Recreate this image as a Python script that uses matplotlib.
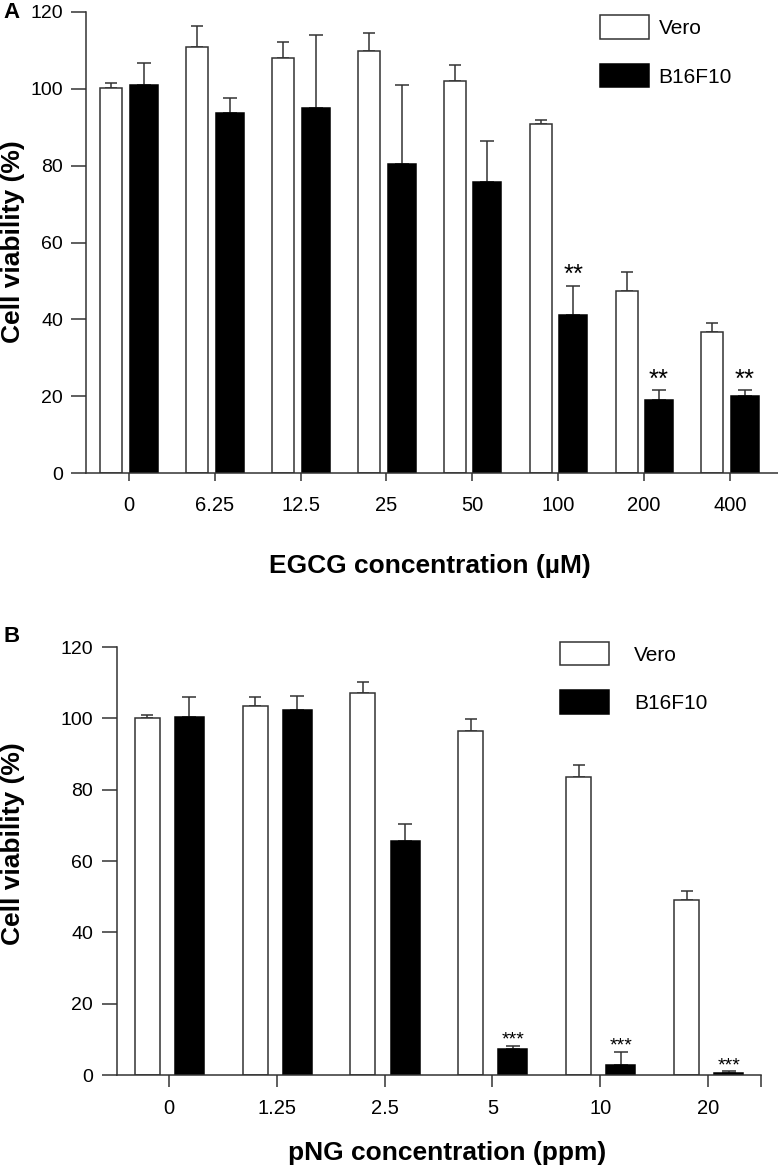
import numpy as np
import matplotlib
matplotlib.use("Agg")
from matplotlib import pyplot as plt

plt.rcParams['font.family'] = ['Liberation Sans', 'DejaVu Sans']

# Panel A: EGCG
egcg_labels = ["0", "6.25", "12.5", "25", "50", "100", "200", "400"]
vero_a = [100.3, 111.0, 108.0, 109.8, 102.1, 90.8, 47.4, 36.7]
vero_a_err = [1.2, 5.3, 4.2, 4.8, 4.2, 1.0, 4.8, 2.4]
b16_a = [101.1, 93.6, 95.1, 80.5, 75.7, 41.1, 19.0, 20.1]
b16_a_err = [5.5, 3.9, 19.0, 20.5, 10.6, 7.7, 2.6, 1.5]
stars_a = ["", "", "", "", "", "**", "**", "**"]

# Panel B: pNG
png_labels = ["0", "1.25", "2.5", "5", "10", "20"]
vero_b = [100.0, 103.4, 107.1, 96.5, 83.6, 49.0]
vero_b_err = [1.0, 2.5, 3.1, 3.4, 3.2, 2.7]
b16_b = [100.4, 102.4, 65.5, 7.3, 2.7, 0.65]
b16_b_err = [5.5, 3.8, 5.0, 0.9, 3.7, 0.4]
stars_b = ["", "", "", "***", "***", "***"]

W, H = 778, 1173
fig = plt.figure(figsize=(W/100, H/100), dpi=100)

def px(x, y):
    # pixel position -> figure fraction
    return x/W, 1 - y/H

def panel(rect, labels, vero, vero_err, b16, b16_err, stars, xlim,
          woff, wwid, boff, bwid, xtick_len, xtick_pad, ytick_pad,
          star_size, star_off, leg_xy, leg_pad, end_tick):
    ax = fig.add_axes(rect)
    x = np.arange(len(labels))
    edge = '#333333'
    ax.bar(x + woff, vero, wwid, color='white', edgecolor=edge, linewidth=1.1, label='Vero', zorder=2)
    ax.bar(x + boff, b16, bwid, color='black', edgecolor='black', linewidth=1.1, label='B16F10', zorder=2)
    z = np.zeros(len(labels))
    ax.errorbar(x + woff, vero, yerr=[z, vero_err], fmt='none', ecolor=edge,
                elinewidth=1.1, capsize=4.5, capthick=1.1, zorder=1)
    ax.errorbar(x + boff, b16, yerr=[z, b16_err], fmt='none', ecolor=edge,
                elinewidth=1.1, capsize=5, capthick=1.1, zorder=1)
    for i, s in enumerate(stars):
        if s:
            ax.annotate(s, xy=(x[i] + boff, b16[i] + b16_err[i]), xytext=(0, star_off),
                        textcoords='offset points', ha='center', va='bottom', fontsize=star_size)

    ax.set_xlim(*xlim)
    ax.set_ylim(0, 120)
    ax.set_yticks(range(0, 121, 20))
    ax.set_xticks(x)
    ax.set_xticklabels(labels)
    if end_tick:
        ax.set_xticks([xlim[1]], minor=True)
        ax.tick_params(axis='x', which='minor', direction='out', length=xtick_len, width=1.1, color=edge)
    ax.tick_params(axis='x', direction='out', length=xtick_len, width=1.1, pad=xtick_pad,
                   labelsize=14.5, color=edge)
    ax.tick_params(axis='y', direction='out', length=10.8, width=1.1, pad=ytick_pad,
                   labelsize=14, color=edge)
    for sp in ['top', 'right']:
        ax.spines[sp].set_visible(False)
    for sp in ['left', 'bottom']:
        ax.spines[sp].set_linewidth(1.1)
        ax.spines[sp].set_color(edge)

    ax.legend(loc='upper left', bbox_to_anchor=px(*leg_xy), bbox_transform=fig.transFigure,
              frameon=False, fontsize=15, handlelength=2.36, handleheight=1.35,
              handletextpad=leg_pad, labelspacing=1.2, borderpad=0, borderaxespad=0)
    return ax

panel([86/W, 1 - 473/H, 692/W, 461/H], egcg_labels, vero_a, vero_a_err, b16_a, b16_a_err,
      stars_a, (-0.5, 7.56), -0.204, 0.256, 0.175, 0.326, 5.8, 10.5, 5.8,
      18.5, -1, (600, 15.5), 0.45, False)

panel([117/W, 1 - 1075/H, 644/W, 428/H], png_labels, vero_b, vero_b_err, b16_b, b16_b_err,
      stars_b, (-0.48, 5.49), -0.2, 0.232, 0.19, 0.269, 8.6, 9, 6.5,
      14, -2, (560, 642), 1.2, True)

# labels
fig.text(*px(13, 242), "Cell viability (%)", rotation=90, ha='center', va='center',
         fontsize=19, fontweight='bold')
fig.text(*px(13, 844), "Cell viability (%)", rotation=90, ha='center', va='center',
         fontsize=19, fontweight='bold')
fig.text(*px(430, 566), "EGCG concentration (µM)", ha='center', va='center',
         fontsize=19, fontweight='bold')
fig.text(*px(447, 1153), "pNG concentration (ppm)", ha='center', va='center',
         fontsize=19, fontweight='bold')
fig.text(*px(12, 12), "A", ha='center', va='center', fontsize=16, fontweight='bold')
fig.text(*px(12, 636), "B", ha='center', va='center', fontsize=16, fontweight='bold')

plt.savefig("out.png", dpi=100)
plt.close()
